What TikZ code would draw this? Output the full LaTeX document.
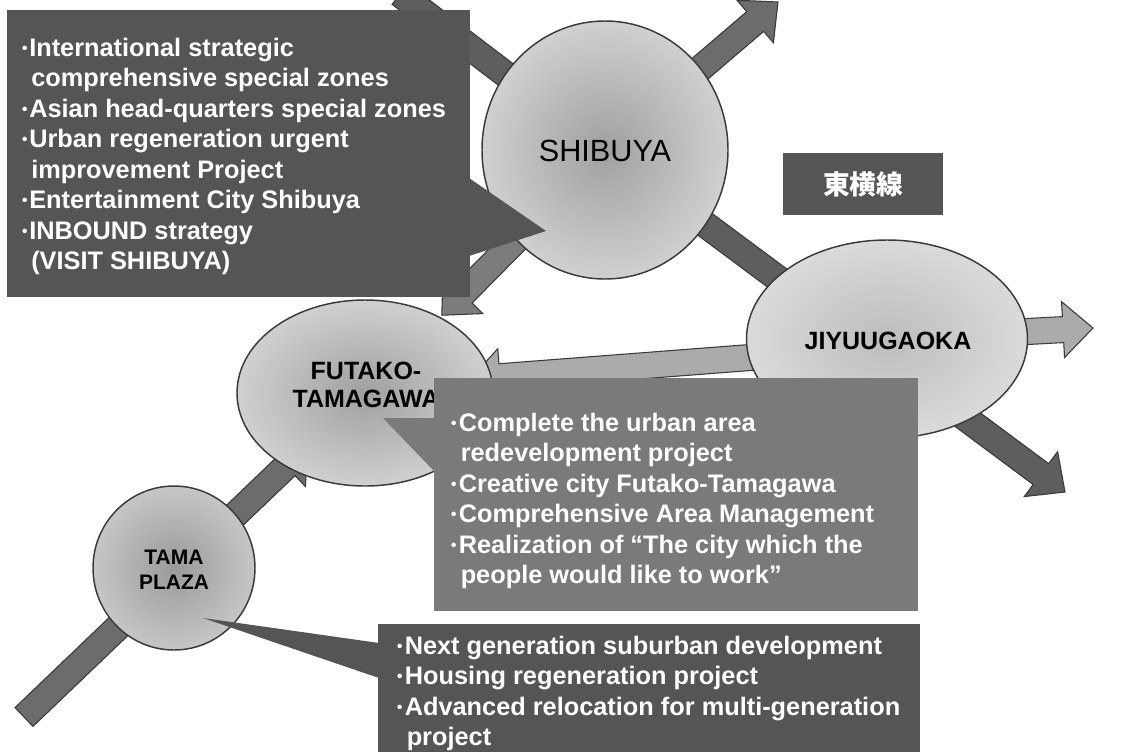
\documentclass[tikz,border=0pt]{standalone}
\usepackage{fontspec}
\setmainfont{Liberation Sans}
\newfontfamily\cjkfont{Noto Sans CJK JP}
\usetikzlibrary{shapes.geometric,calc}

\definecolor{arrowdark}{HTML}{5E5E5E}
\definecolor{arrowmid}{HTML}{6C6C6C}
\definecolor{arrowgray}{HTML}{7C7C7C}
\definecolor{arrowlight}{HTML}{ABABAB}
\definecolor{edgegray}{HTML}{3A3A3A}
\definecolor{boxdark}{HTML}{555555}
\definecolor{boxmid}{HTML}{7A7A7A}
\definecolor{stationin}{HTML}{A0A0A0}
\definecolor{stationout}{HTML}{D0D0D0}
\definecolor{stationlightin}{HTML}{BDBDBD}
\definecolor{stationlightout}{HTML}{DADADA}
\definecolor{stationsmallin}{HTML}{9A9A9A}
\definecolor{stationsmallout}{HTML}{C6C6C6}

\pgfdeclarelayer{background}
\pgfsetlayers{background,main}

% block arrow from #2 to #3 (shaft 26px, head 56px wide, 30px long)
\newcommand\blockarrow[3]{%
  \path ($(#3)!22.5pt!(#2)$) coordinate (ba-h);
  \filldraw[#1] ($(#2)!9.75pt!90:(#3)$) -- ($(ba-h)!9.75pt!-90:(#2)$)
    -- ($(ba-h)!21pt!-90:(#2)$) -- (#3) -- ($(ba-h)!21pt!90:(#2)$)
    -- ($(ba-h)!9.75pt!90:(#2)$) -- ($(#2)!9.75pt!-90:(#3)$) -- cycle;}
% plain shaft from #2 to #3
\newcommand\blockbar[3]{%
  \filldraw[#1] ($(#2)!9.75pt!90:(#3)$) -- ($(#3)!9.75pt!-90:(#2)$)
    -- ($(#3)!9.75pt!90:(#2)$) -- ($(#2)!9.75pt!-90:(#3)$) -- cycle;}

\newcommand\bul{\makebox[6.75pt][c]{\cjkfont\mdseries\fontsize{16pt}{16pt}\selectfont ・}}
\newcommand\ind{\hspace*{8.25pt}}

\begin{document}
\begin{tikzpicture}[x=0.75pt,y=-0.75pt,
  station/.style={ellipse, draw=edgegray, line width=1.1pt, inner sep=0pt,
    inner color=stationin, outer color=stationout},
  stname/.style={font=\bfseries\fontsize{18.75pt}{21pt}\selectfont, text=black,
    align=center, inner sep=0pt},
  panel/.style={anchor=north west, inner sep=0pt, outer sep=0pt},
  paneltext/.style={anchor=base west, inner sep=0pt, text=white,
    font=\bfseries\fontsize{19pt}{22.9pt}\selectfont},
  darkarrow/.style={fill=arrowdark, draw=edgegray, line width=0.8pt},
  midarrow/.style={fill=arrowmid, draw=edgegray, line width=0.8pt},
  grayarrow/.style={fill=arrowgray, draw=edgegray, line width=0.8pt},
  lightarrow/.style={fill=arrowlight, draw=edgegray, line width=0.8pt}]

\useasboundingbox (0,0) rectangle (1122,754);
\clip (0,0) rectangle (1122,754);

% stations
\node[station, minimum width=184.5pt, minimum height=193.5pt] (shibuya) at (605,150) {};
\node[station, inner color=stationlightin, outer color=stationlightout,
  minimum width=210.75pt, minimum height=148.5pt] (jiyuugaoka) at (887,339) {};
\node[station, minimum width=192pt, minimum height=139.5pt] (futako) at (365,393) {};
\node[station, inner color=stationsmallin, outer color=stationsmallout,
  minimum width=121.5pt, minimum height=123pt] (tama) at (174,568) {};

\node[font=\fontsize{23pt}{27pt}\selectfont, inner sep=0pt] (shibuya-name) at (605,151) {SHIBUYA};
\node[stname] (jiyuugaoka-name) at (888,341) {JIYUUGAOKA};
\node[stname] (futako-name) at (366,385) {FUTAKO-\\TAMAGAWA};
\node[stname, font=\bfseries\fontsize{15.75pt}{18.75pt}\selectfont] (tama-name) at (174,570) {TAMA\\PLAZA};

% rail lines under the stations
\begin{pgfonlayer}{background}
  \clip (0,0) rectangle (1122,754);
  \fill[white] (0,0) rectangle (1122,754);
  \coordinate (toyoko-tail) at (400,-6);
  \coordinate (toyoko-head) at (1065,492);
  \coordinate (shibuya-ne-head) at (778,2);
  \coordinate (den-tail) at (24,717);
  \coordinate (den-head) at ($(tama)!0.7!(futako)$);
  \coordinate (sf-head) at ($(shibuya)!0.68!(futako)$);
  \coordinate (oi-tail) at ($(jiyuugaoka)+(0,8)$);
  \coordinate (oi-head) at (470,379);
  \coordinate (oi-east-head) at (1093,328);
  \blockbar{darkarrow}{toyoko-tail}{shibuya.center}
  \blockarrow{darkarrow}{shibuya.center}{toyoko-head}
  \blockarrow{midarrow}{shibuya.center}{shibuya-ne-head}
  \blockarrow{grayarrow}{shibuya.center}{sf-head}
  \blockarrow{midarrow}{den-tail}{den-head}
  \blockarrow{lightarrow}{oi-tail}{oi-head}
  \blockarrow{lightarrow}{jiyuugaoka.center}{oi-east-head}
\end{pgfonlayer}

% Shibuya panel
\node[panel, fill=boxdark, minimum width=347.25pt, minimum height=215.25pt] (sbox) at (7,10) {};
\fill[boxdark] (469,178) -- (546,231) -- (469,256) -- cycle;
\node[paneltext] (sbox-text) at (20,56) {\vtop{%
  \hbox{\bul International strategic}
  \hbox{\ind comprehensive special zones}
  \hbox{\bul Asian head-quarters special zones}
  \hbox{\bul Urban regeneration urgent}
  \hbox{\ind improvement Project}
  \hbox{\bul Entertainment City Shibuya}
  \hbox{\bul INBOUND strategy}
  \hbox{\ind (VISIT SHIBUYA)}}};

% line name
\node[fill=boxdark, minimum width=120pt, minimum height=46.5pt, inner sep=0pt,
  text=white, font=\cjkfont\bfseries\fontsize{20pt}{24pt}\selectfont] (toyoko-label) at (863,184) {東横線};

% Futako-Tamagawa panel
\node[panel, fill=boxmid, minimum width=363pt, minimum height=174.75pt] (fbox) at (434,378) {};
\fill[boxmid] (383,418) -- (435,418) -- (435,472) -- cycle;
\node[paneltext] (fbox-text) at (449.5,431) {\vtop{%
  \hbox{\bul Complete the urban area}
  \hbox{\ind redevelopment project}
  \hbox{\bul Creative city Futako-Tamagawa}
  \hbox{\bul Comprehensive Area Management}
  \hbox{\bul Realization of “The city which the}
  \hbox{\ind people would like to work”}}};

% Tama Plaza panel
\node[panel, fill=boxdark, minimum width=406.5pt, minimum height=96pt] (tbox) at (378,624) {};
\fill[boxdark] (203,618) -- (379,643) -- (379,678) -- cycle;
\node[paneltext] (tbox-text) at (395.5,654) {\vtop{%
  \hbox{\bul Next generation suburban development}
  \hbox{\bul Housing regeneration project}
  \hbox{\bul Advanced relocation for multi-generation}
  \hbox{\ind project}}};
\end{tikzpicture}
\end{document}
